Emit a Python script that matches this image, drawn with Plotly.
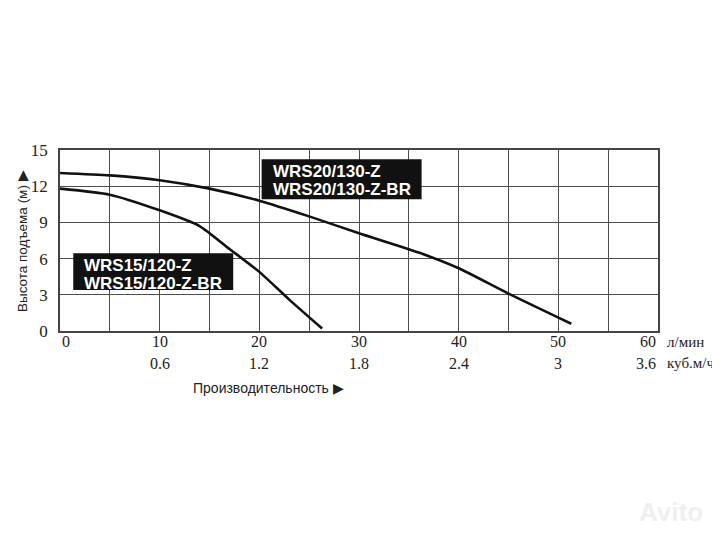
import plotly.graph_objects as go

# Flow, л/мин  and head, м
wrs20_q = [0, 5, 10, 15, 20, 25, 30, 36, 40, 45, 51.3]
wrs20_h = [13.1, 12.9, 12.5, 11.8, 10.8, 9.5, 8.1, 6.5, 5.2, 3.1, 0.6]
wrs15_q = [0, 5, 10, 14, 17, 20, 23, 26.3]
wrs15_h = [11.8, 11.3, 10.0, 8.7, 6.8, 4.9, 2.6, 0.2]

x_ticks = [0, 10, 20, 30, 40, 50, 60]
y_ticks = [0, 3, 6, 9, 12, 15]
m3h_pos = [10, 20, 30, 40, 50, 60]
m3h_labels = ["0.6", "1.2", "1.8", "2.4", "3", "3.6"]

label20 = ["WRS20/130-Z", "WRS20/130-Z-BR"]
label15 = ["WRS15/120-Z", "WRS15/120-Z-BR"]

serif = "Liberation Serif"
sans = "Liberation Sans"
ink = "#222"

fig = go.Figure()
fig.add_trace(go.Scatter(x=wrs20_q, y=wrs20_h, mode="lines", line=dict(color="#111", width=2.6, shape="spline", smoothing=0.6)))
fig.add_trace(go.Scatter(x=wrs15_q, y=wrs15_h, mode="lines", line=dict(color="#111", width=2.6, shape="spline", smoothing=0.6)))

# page body has an 8px margin, so the figure is 712x532 and margins are offset
fig.update_layout(
    width=712, height=532,
    margin=dict(l=52, r=62, t=142, b=209, autoexpand=False),
    paper_bgcolor="white", plot_bgcolor="white",
    showlegend=False,
    xaxis=dict(range=[0, 60], tickvals=x_ticks, showticklabels=False,
               showgrid=True, gridcolor="#4d4d4d", gridwidth=1.4,
               minor=dict(dtick=5, showgrid=True, gridcolor="#4d4d4d", gridwidth=1.4),
               showline=True, linecolor="#444", linewidth=1.5, mirror=True,
               zeroline=False, ticks=""),
    yaxis=dict(range=[0, 15], tickvals=y_ticks,
               showgrid=True, gridcolor="#4d4d4d", gridwidth=1.4,
               showline=True, linecolor="#444", linewidth=1.5, mirror=True,
               zeroline=False, ticks="", ticklabelstandoff=7,
               tickfont=dict(family=serif, size=17, color=ink)),
)

ann = []
shapes = []
# y-axis title
ann.append(dict(x=-0.0635, y=0.497, xref="paper", yref="paper", text="Высота подъема (м) ▶", showarrow=False,
                textangle=-90, xanchor="center", yanchor="middle", font=dict(family=sans, size=13.5, color=ink)))
# label boxes
for (x0, x1, y0, y1), lines in [((20.23, 36.28, 10.91, 14.23), label20), ((1.33, 17.38, 3.40, 6.44), label15)]:
    shapes.append(dict(type="rect", xref="x", yref="y", x0=x0, x1=x1, y0=y0, y1=y1,
                       fillcolor="#111", line=dict(width=0), layer="above"))
    for i, txt in enumerate(lines):
        ann.append(dict(x=x0, y=y1, xref="x", yref="y", text=txt, showarrow=False,
                        xanchor="left", yanchor="middle", align="left", xshift=9, yshift=-12 - 18.5 * i,
                        font=dict(family=sans, size=17, color="white", weight="bold")))

# primary x tick labels (л/мин)
for v in x_ticks:
    anchor = "left" if v == x_ticks[0] else ("right" if v == x_ticks[-1] else "center")
    ann.append(dict(x=v, y=0, xref="x", yref="y", text=str(v), showarrow=False, xanchor=anchor,
                    yanchor="middle", yshift=-10, font=dict(family=serif, size=16, color=ink)))
ann.append(dict(x=60, y=0, xref="x", yref="y", text="л/мин", showarrow=False, xanchor="left", yanchor="middle",
                xshift=7, yshift=-11, font=dict(family=serif, size=15, color=ink)))
# second scale (куб.м/ч)
for p, t in zip(m3h_pos, m3h_labels):
    anchor = "right" if p == m3h_pos[-1] else "center"
    ann.append(dict(x=p, y=0, xref="x", yref="y", text=t, showarrow=False, xanchor=anchor, yanchor="middle",
                    yshift=-32, font=dict(family=serif, size=16, color=ink)))
ann.append(dict(x=60, y=0, xref="x", yref="y", text="куб.м/ч", showarrow=False, xanchor="left", yanchor="middle",
                xshift=7, yshift=-32, font=dict(family=serif, size=15, color=ink)))
ann.append(dict(x=0.349, y=-0.315, xref="paper", yref="paper", text="Производительность ▶", showarrow=False,
                xanchor="center", yanchor="middle", font=dict(family=sans, size=14, color=ink)))
ann.append(dict(x=1.078, y=-1.0, xref="paper", yref="paper", text="Avito", showarrow=False,
                xanchor="right", yanchor="middle", font=dict(family=sans, size=26, color="#efefef", weight="bold")))

shapes.append(dict(type="line", xref="x", yref="y", x0=0, x1=60, y0=-1.8, y1=-1.8,
                   line=dict(color="#555", width=1.3)))
fig.update_layout(annotations=ann, shapes=shapes)

fig.write_html("out.html")
